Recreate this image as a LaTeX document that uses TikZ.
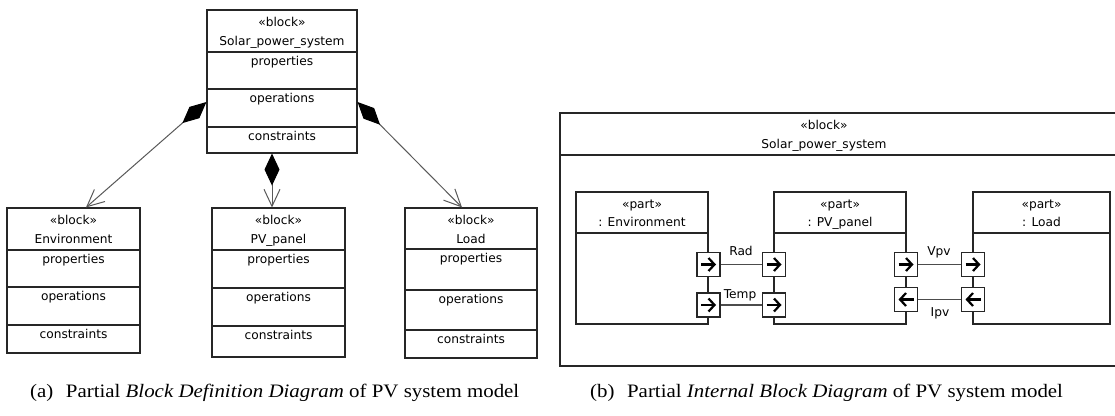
\documentclass[tikz,border=0pt]{standalone}
\usepackage{fontspec}
\setmainfont{Liberation Serif}
\newfontfamily\uifont{DejaVu Sans}
\usetikzlibrary{arrows.meta,fit}
\tikzset{
  box/.style={draw=black!85, line width=1.1pt},
  lbl/.style={font=\uifont\fontsize{12.2}{14}\selectfont, inner sep=0pt, text height=9pt, text depth=3pt},
  captxt/.style={font=\fontsize{19}{22}\selectfont, inner sep=0pt, anchor=west},
  comp/.style={draw=black!65, line width=1pt,
    {Diamond[length=32pt,width=15pt,color=black]}-{Straight Barb[length=17pt,width=16pt,color=black!65]}},
  portbox/.style={box, line width=1.3pt, fill=white, minimum width=23pt, minimum height=24pt, inner sep=0pt},
  parr/.style={line width=2.2pt, -{Straight Barb[length=6pt,width=13pt]}},
  conn/.style={draw=black!70, line width=1.1pt}
}
\newcommand\bddblock[9]{%
  \node[box, fit={(#2,#4) (#3,#8)}, inner sep=0pt] (#1) {};
  \draw[box] (#2,#5) -- (#3,#5) (#2,#6) -- (#3,#6) (#2,#7) -- (#3,#7);
  \node[lbl] (#1-st) at ({(#2+#3)/2},{#4+13}) {«block»};
  \node[lbl] (#1-nm) at ({(#2+#3)/2},{#4+32}) {#9};
  \node[lbl] (#1-p) at ({(#2+#3)/2},{#5+10}) {properties};
  \node[lbl] (#1-o) at ({(#2+#3)/2},{#6+10}) {operations};
  \node[lbl] (#1-c) at ({(#2+#3)/2},{#7+10}) {constraints};
}
\newcommand\ibdpart[6]{% name, xl, xr, yt, yb, title
  \node[box, fit={(#2,#4) (#3,#5)}, inner sep=0pt] (#1) {};
  \draw[box] (#2,{#4+41}) -- (#3,{#4+41});
  \node[lbl] (#1-st) at ({(#2+#3)/2},{#4+13}) {«part»};
  \node[lbl] (#1-nm) at ({(#2+#3)/2},{#4+31}) {#6};
}
\newcommand\portR[3]{%
  \node[portbox] (#1) at (#2,#3) {};
  \draw[parr] ([xshift=-7.5pt]#1.center) -- ([xshift=7.5pt]#1.center);
}
\newcommand\portL[3]{%
  \node[portbox] (#1) at (#2,#3) {};
  \draw[parr] ([xshift=7.5pt]#1.center) -- ([xshift=-7.5pt]#1.center);
}
\begin{document}
\begin{tikzpicture}[x=1pt,y=-1pt]
\begin{scope}
\clip (0,0) rectangle (1115,415);
\fill[white] (0,0) rectangle (1115,415);
% (a) Block Definition Diagram
\bddblock{top}{207}{357}{10}{52}{89}{127}{153}{Solar\_power\_system}
\bddblock{env}{7}{140}{208}{250}{287}{325}{353}{Environment}
\bddblock{pv}{212}{345}{208}{250}{288}{326}{357}{PV\_panel}
\bddblock{load}{405}{537}{208}{249}{290}{330}{358}{Load}
\coordinate (c1a) at (top.west |- 0,102);
\coordinate (c1b) at (env.north -| 86,0);
\coordinate (c2a) at (top.south -| 272,0);
\coordinate (c2b) at (pv.north -| 272,0);
\coordinate (c3a) at (top.east |- 0,102);
\coordinate (c3b) at (load.north -| 462,0);
\draw[comp] (c1a) -- (c1b);
\draw[comp] (c2a) -- (c2b);
\draw[comp] (c3a) -- (c3b);
% (b) Internal Block Diagram
\node[box, fit={(560,113) (1130,366)}, inner sep=0pt] (frame) {};
\draw[box] (frame.west |- 0,155) -- (frame.east |- 0,155);
\node[lbl] (frame-st) at (824,126) {«block»};
\node[lbl] (frame-nm) at (824,145) {Solar\_power\_system};
\ibdpart{envp}{576}{708}{192}{324}{: Environment}
\ibdpart{pvp}{774}{906}{192}{324}{: PV\_panel}
\ibdpart{loadp}{973}{1110}{192}{324}{: Load}
\portR{erad}{708.5}{264.5}
\portR{etemp}{708.5}{305}
\portR{prad}{774}{264.5}
\portR{ptemp}{774}{305}
\portR{pvpv}{906}{264.5}
\portL{pipv}{906}{299.5}
\portR{lvpv}{973}{264.5}
\portL{lipv}{973}{299.5}
\draw[conn] (erad) -- (prad);
\draw[conn] (etemp) -- (ptemp);
\draw[conn] (pvpv) -- (lvpv);
\draw[conn] (lipv) -- (pipv);
\node[lbl] (lrad) at (741,252) {Rad};
\node[lbl] (ltemp) at (740,295) {Temp};
\node[lbl] (lvpvl) at (939,252) {Vpv};
\node[lbl] (lipvl) at (940,313) {Ipv};
% captions
\node[captxt] (capa) at (30,393) {\scalebox{1.1}[1]{(a)\hspace{0.6em}Partial \textit{Block Definition Diagram} of PV system model}};
\node[captxt] (capb) at (590,393) {\scalebox{1.1}[1]{(b)\hspace{0.6em}Partial \textit{Internal Block Diagram} of PV system model}};
\end{scope}
\pgfresetboundingbox
\useasboundingbox (0,0) rectangle (1115,415);
\end{tikzpicture}
\end{document}
